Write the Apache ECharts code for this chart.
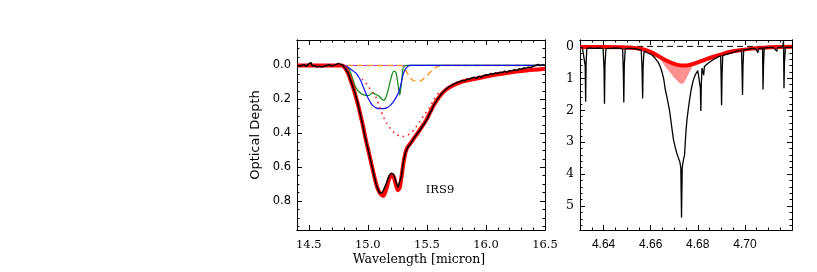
<!DOCTYPE html>
<html>
<head>
<meta charset="utf-8">
<script src="https://cdn.jsdelivr.net/npm/echarts@6/dist/echarts.min.js"></script>
<style>html,body{margin:0;padding:0;background:#fff;}#c{width:817px;height:272px;}</style>
</head>
<body>
<div id="c"></div>
<script>
// ---------------- DATA: left panel (IRS9, 15 micron CO2 ice band) ----------------
const leftXTicks = [14.5, 15.0, 15.5, 16.0, 16.5];
const leftYTicks = [0.0, 0.2, 0.4, 0.6, 0.8];
const irs9Obs = [
 [14.40,0.000],[14.42,0.005],[14.44,0.000],[14.46,-0.005],[14.48,0.005],[14.50,-0.010],[14.51,0.000],
 [14.52,-0.016],[14.53,0.005],[14.55,0.000],[14.57,0.010],[14.59,0.005],[14.61,0.010],[14.63,0.005],
 [14.65,0.000],[14.67,-0.005],[14.69,0.002],[14.71,0.000],[14.73,-0.005],[14.75,-0.012],[14.77,-0.006],
 [14.79,0.000],[14.81,0.020],[14.83,0.040],[14.85,0.080],[14.87,0.120],[14.89,0.160],[14.91,0.210],
 [14.93,0.270],[14.95,0.330],[14.97,0.400],[14.99,0.460],[15.01,0.520],[15.03,0.580],[15.05,0.640],
 [15.07,0.700],[15.09,0.740],[15.10,0.752],[15.11,0.742],[15.12,0.750],[15.13,0.738],[15.14,0.728],
 [15.16,0.690],[15.18,0.650],[15.20,0.635],[15.22,0.645],[15.24,0.690],[15.255,0.720],[15.27,0.718],
 [15.285,0.650],[15.30,0.570],[15.32,0.510],[15.34,0.482],[15.36,0.462],[15.38,0.440],[15.40,0.420],
 [15.42,0.400],[15.44,0.382],[15.46,0.360],[15.48,0.342],[15.50,0.320],[15.52,0.290],[15.54,0.262],
 [15.56,0.232],[15.58,0.210],[15.60,0.190],[15.62,0.170],[15.64,0.155],[15.66,0.142],[15.68,0.128],
 [15.70,0.122],[15.72,0.112],[15.74,0.106],[15.76,0.098],[15.78,0.096],[15.80,0.088],[15.82,0.092],
 [15.84,0.080],[15.86,0.082],[15.88,0.074],[15.90,0.070],[15.92,0.076],[15.94,0.064],[15.96,0.070],
 [15.98,0.060],[16.00,0.055],[16.02,0.057],[16.04,0.048],[16.06,0.052],[16.08,0.044],[16.10,0.046],
 [16.12,0.040],[16.14,0.041],[16.16,0.034],[16.18,0.040],[16.20,0.030],[16.22,0.032],[16.24,0.025],
 [16.26,0.030],[16.28,0.020],[16.30,0.022],[16.32,0.015],[16.34,0.016],[16.36,0.010],[16.38,0.012],
 [16.40,0.005],[16.42,0.000],[16.44,-0.006],[16.46,0.000],[16.48,-0.005],[16.50,0.000]
];
const irs9Fit = [
 [14.40,0.000],[14.60,0.000],[14.78,0.000],[14.80,0.010],[14.82,0.030],[14.84,0.060],[14.86,0.100],
 [14.88,0.140],[14.90,0.190],[14.92,0.240],[14.94,0.300],[14.96,0.360],[14.98,0.430],[15.00,0.490],
 [15.02,0.550],[15.04,0.610],[15.06,0.670],[15.08,0.720],[15.10,0.750],[15.12,0.765],[15.13,0.768],
 [15.14,0.760],[15.16,0.720],[15.18,0.670],[15.20,0.645],[15.22,0.660],[15.24,0.710],[15.255,0.735],
 [15.27,0.720],[15.29,0.630],[15.31,0.540],[15.33,0.490],[15.36,0.460],[15.40,0.420],[15.45,0.370],
 [15.50,0.315],[15.55,0.245],[15.60,0.190],[15.65,0.150],[15.70,0.125],[15.80,0.095],[15.90,0.080],
 [16.00,0.065],[16.10,0.052],[16.20,0.042],[16.30,0.033],[16.40,0.026],[16.50,0.020]
];
const irs9Dotted = [
 [14.95,0.080],[14.98,0.100],[15.01,0.130],[15.04,0.160],[15.07,0.190],[15.10,0.245],[15.13,0.300],
 [15.16,0.340],[15.20,0.380],[15.24,0.405],[15.28,0.420],[15.32,0.415],[15.36,0.400],[15.40,0.370],
 [15.44,0.330],[15.48,0.290],[15.52,0.250],[15.56,0.200],[15.60,0.160]
];
const irs9Blue = [
 [14.40,0],[14.80,0],[14.82,0.005],[14.84,0.015],[14.86,0.025],[14.88,0.035],[14.90,0.045],[14.92,0.065],
 [14.94,0.090],[14.96,0.125],[14.98,0.160],[15.00,0.190],[15.02,0.215],[15.04,0.235],[15.07,0.250],
 [15.10,0.255],[15.13,0.255],[15.16,0.250],[15.19,0.235],[15.22,0.210],[15.25,0.175],[15.27,0.140],
 [15.29,0.080],[15.30,0.050],[15.32,0.020],[15.34,0.005],[15.36,0],[16.50,0]
];
const irs9Green = [
 [14.40,0],[14.80,0],[14.82,0.010],[14.843,0.024],[14.87,0.075],[14.898,0.130],[14.925,0.155],
 [14.954,0.170],[14.98,0.176],[15.01,0.177],[15.038,0.160],[15.065,0.170],[15.093,0.180],[15.135,0.206],
 [15.155,0.185],[15.177,0.130],[15.20,0.065],[15.219,0.033],[15.238,0.043],[15.255,0.110],[15.27,0.175],
 [15.285,0.100],[15.30,0.014],[15.33,0],[16.50,0]
];
const irs9Orange = [
 [14.40,0],[15.28,0],[15.316,0.024],[15.358,0.073],[15.40,0.092],[15.44,0.092],[15.48,0.073],
 [15.525,0.043],[15.567,0.014],[15.61,0.002],[15.65,0],[16.50,0]
];
const irs9Purple = [[14.40,0],[16.50,0]];

// ---------------- DATA: right panel (4.67 micron CO band) ----------------
const rightXTicks = [4.64, 4.66, 4.68, 4.70];
const rightYTicks = [0, 1, 2, 3, 4, 5];
const coObs = [
 [4.6300,0.03],[4.6310,0.04],[4.6318,0.05],[4.6322,0.60],[4.6324,1.73],[4.6326,0.50],[4.6329,0.06],
 [4.6340,0.05],[4.6360,0.06],[4.6380,0.05],[4.6398,0.06],[4.6402,0.70],[4.6404,1.80],[4.6406,0.60],
 [4.6410,0.07],[4.6430,0.06],[4.6450,0.05],[4.6470,0.06],[4.6481,0.07],[4.6484,0.80],[4.6486,1.76],
 [4.6488,0.60],[4.6492,0.07],[4.6510,0.06],[4.6530,0.07],[4.6545,0.09],[4.6560,0.12],[4.6563,0.60],
 [4.6566,1.63],[4.6568,0.60],[4.6572,0.15],[4.6585,0.20],[4.6606,0.27],[4.6620,0.38],[4.6632,0.50],
 [4.6641,0.64],[4.6648,0.80],[4.6655,1.00],[4.6662,1.35],[4.6670,1.62],[4.6680,2.00],[4.6690,2.55],
 [4.6697,2.93],[4.6704,3.15],[4.6711,3.35],[4.6718,3.50],[4.6724,3.62],[4.6728,3.80],[4.6731,5.36],
 [4.6734,3.80],[4.6739,3.55],[4.6744,3.40],[4.6747,3.00],[4.6750,2.65],[4.6754,2.30],[4.6760,1.95],
 [4.6765,1.68],[4.6772,1.35],[4.6780,1.08],[4.6790,0.88],[4.6800,0.76],[4.6808,0.70],[4.6811,1.30],
 [4.6813,2.02],[4.6815,1.20],[4.6818,0.68],[4.6822,0.66],[4.6825,0.90],[4.6828,0.63],[4.6845,0.52],
 [4.6865,0.42],[4.6887,0.33],[4.6897,0.30],[4.6899,0.90],[4.6901,1.84],[4.6903,0.90],[4.6906,0.28],
 [4.6925,0.24],[4.6944,0.20],[4.6965,0.15],[4.6986,0.12],[4.6988,0.80],[4.6990,1.52],[4.6992,0.60],
 [4.6995,0.11],[4.7020,0.08],[4.7045,0.06],[4.7055,0.20],[4.7058,0.06],[4.7075,0.05],[4.7077,1.35],
 [4.7079,0.60],[4.7082,0.05],[4.7100,0.04],[4.7120,0.03],[4.7136,0.15],[4.7139,0.03],[4.7155,0.03],
 [4.7162,-0.05],[4.7164,-0.18],[4.7166,1.31],[4.7168,0.50],[4.7172,0.03],[4.7200,0.02]
];
const coFit = [
 [4.630,0.02],[4.640,0.02],[4.648,0.03],[4.654,0.06],[4.658,0.12],[4.662,0.25],[4.665,0.38],
 [4.668,0.49],[4.671,0.57],[4.674,0.60],[4.677,0.57],[4.680,0.50],[4.683,0.42],[4.686,0.34],
 [4.690,0.25],[4.694,0.17],[4.698,0.12],[4.703,0.07],[4.708,0.04],[4.714,0.02],[4.720,0.01]
];
const pinkWave = [4.664, 4.666, 4.668, 4.670, 4.672, 4.673, 4.674, 4.675, 4.676, 4.678, 4.680];
const pinkTop  = [0.34, 0.42, 0.49, 0.545, 0.58, 0.59, 0.60, 0.595, 0.58, 0.55, 0.50];
const pinkDeep = [0.36, 0.60, 0.78, 0.97, 1.12, 1.16, 1.14, 1.00, 0.85, 0.58, 0.50];
const coZero = [[4.650,0],[4.718,0]];

// ---------------- chart ----------------
function ticksBetween(min, max, step) {
  const out = [];
  const n0 = Math.ceil(min / step - 1e-9), n1 = Math.floor(max / step + 1e-9);
  for (let k = n0; k <= n1; k++) out.push(+(k * step).toFixed(6));
  return out;
}
const axisLineStyle = {color: '#000', width: 1};

function makeAxes(kind, gridIndex, min, max, majors, minors, labelCfg, inverse) {
  const sides = kind === 'x' ? ['bottom', 'top'] : ['left', 'right'];
  const axes = [];
  sides.forEach(function (side, si) {
    [[majors, 5], [minors, 2.5]].forEach(function (pair, ti) {
      const showLab = si === 0 && ti === 0;
      axes.push({
        type: 'value', gridIndex: gridIndex, min: min, max: max, position: side,
        inverse: !!inverse,
        axisLine: {show: true, onZero: false, lineStyle: axisLineStyle},
        axisTick: {show: true, inside: true, length: pair[1], customValues: pair[0],
                   lineStyle: {color: '#000', width: 1}},
        axisLabel: Object.assign({show: showLab, customValues: majors}, labelCfg),
        splitLine: {show: false}
      });
    });
  });
  return axes;
}

const lxAxes = makeAxes('x', 0, 14.4, 16.5, leftXTicks, ticksBetween(14.4, 16.5, 0.1),
  {fontFamily: 'DejaVu Serif', fontSize: 11.5, color: '#000', margin: 9,
   formatter: function (v) { return v.toFixed(1); }}, false);
const rxAxes = makeAxes('x', 1, 4.63, 4.72, rightXTicks, ticksBetween(4.63, 4.72, 0.005),
  {fontFamily: 'Liberation Sans', fontSize: 12, color: '#000', margin: 9,
   formatter: function (v) { return v.toFixed(2); }}, false);
const lyAxes = makeAxes('y', 0, -0.15, 0.97, leftYTicks, ticksBetween(-0.15, 0.97, 0.05),
  {fontFamily: 'DejaVu Sans', fontSize: 11.5, color: '#000', margin: 6,
   formatter: function (v) { return v.toFixed(1); }}, true);
const ryAxes = makeAxes('y', 1, -0.2, 5.75, rightYTicks, ticksBetween(-0.2, 5.75, 0.2),
  {fontFamily: 'DejaVu Serif', fontSize: 12.5, color: '#000', margin: 6,
   formatter: function (v) { return String(Math.round(v)); }}, true);

const xAxis = lxAxes.concat(rxAxes);   // left: 0..3, right: 4..7
const yAxis = lyAxes.concat(ryAxes);

function line(data, xi, yi, color, width, extra) {
  return Object.assign({
    type: 'line', xAxisIndex: xi, yAxisIndex: yi, data: data, showSymbol: false, symbol: 'none',
    lineStyle: {color: color, width: width}, silent: true, clip: true
  }, extra || {});
}

// pink band: filled between the fit (top) and the deeper component, drawn through the axes
const pinkSeries = {
  type: 'custom', xAxisIndex: 4, yAxisIndex: 4, silent: true, z: 1,
  data: pinkWave.map(function (x, i) { return [x, pinkTop[i], pinkDeep[i]]; }),
  encode: {x: 0, y: [1, 2]},
  renderItem: function (params, api) {
    const i = params.dataIndex;
    if (i >= pinkWave.length - 1) return null;
    const pts = [
      api.coord([pinkWave[i], pinkTop[i]]),
      api.coord([pinkWave[i + 1], pinkTop[i + 1]]),
      api.coord([pinkWave[i + 1], pinkDeep[i + 1]]),
      api.coord([pinkWave[i], pinkDeep[i]])
    ];
    return {type: 'polygon', shape: {points: pts},
            style: {fill: '#ff8f8f', stroke: '#ff8f8f', lineWidth: 0.6}};
  }
};

const series = [
  line(irs9Purple, 0, 0, '#9933dd', 1, {z: 1}),
  line(irs9Orange, 0, 0, '#ff9a2e', 1.5, {z: 2, smooth: 0.3, lineStyle: {color: '#ff9a2e', width: 1.5, type: [6, 4]}}),
  line(irs9Green, 0, 0, '#118811', 1.2, {z: 3, smooth: 0.3}),
  line(irs9Blue, 0, 0, '#1010ff', 1.2, {z: 4, smooth: 0.3}),
  line(irs9Dotted, 0, 0, '#ff2020', 1.6, {z: 5, smooth: 0.3, lineStyle: {color: '#ff2020', width: 1.6, type: [1.6, 4]}}),
  line(irs9Fit, 0, 0, '#ff0000', 4, {z: 6, smooth: 0.3}),
  line(irs9Obs, 0, 0, '#000000', 1.5, {z: 7}),

  pinkSeries,
  line(coZero, 4, 4, '#000', 1, {z: 3, lineStyle: {color: '#000', width: 1, type: [6, 4]}}),
  line(coFit, 4, 4, '#ff0000', 4, {z: 4, smooth: 0.3}),
  line(coObs, 4, 4, '#000000', 1.3, {z: 5})
];

const chart = echarts.init(document.getElementById('c'), null, {renderer: 'canvas'});
chart.setOption({
  animation: false,
  backgroundColor: '#ffffff',
  grid: [
    {left: 297, top: 40, width: 248, height: 190, outerBoundsMode: 'none'},
    {left: 580, top: 40, width: 212, height: 190, outerBoundsMode: 'none'}
  ],
  xAxis: xAxis,
  yAxis: yAxis,
  series: series,
  graphic: [
    {type: 'text', x: 256, y: 135, rotation: Math.PI / 2, silent: true,
     style: {text: 'Optical Depth', font: '13px "DejaVu Sans"', fill: '#000', align: 'center', verticalAlign: 'middle'}},
    {type: 'text', x: 419, y: 260, silent: true,
     style: {text: 'Wavelength [micron]', font: '12.5px "DejaVu Serif"', fill: '#000', align: 'center', verticalAlign: 'middle'}},
    {type: 'text', x: 440, y: 190.5, silent: true,
     style: {text: 'IRS9', font: '11.5px "DejaVu Serif"', fill: '#000', align: 'center', verticalAlign: 'middle'}}
  ]
});
</script>
</body>
</html>
